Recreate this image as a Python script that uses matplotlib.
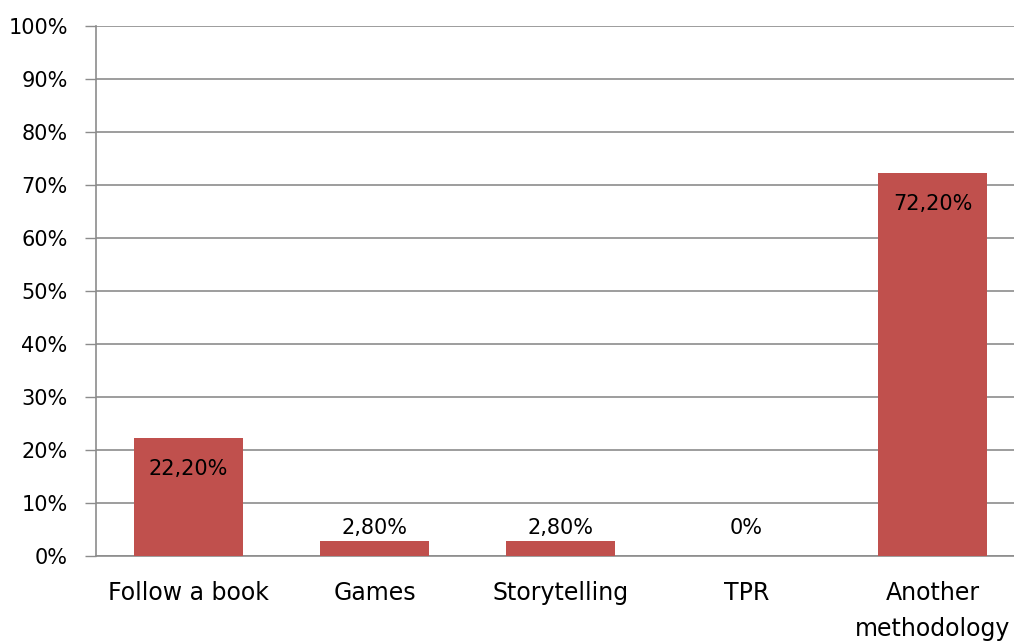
import numpy as np
import matplotlib.pyplot as plt
import matplotlib.ticker as tck

plt.rcParams['font.family'] = ['DejaVu Sans']

# Data
categories = ["Follow a book", "Games", "Storytelling", "TPR", "Another\nmethodology"]
values = [22.2, 2.8, 2.8, 0.0, 72.2]
labels = ["22,20%", "2,80%", "2,80%", "0%", "72,20%"]

bar_color = "#C0504D"
grid_color = "#8C8C8C"

fig = plt.figure(figsize=(10.14, 6.42), dpi=100)
ax = fig.add_axes([95.5 / 1014, 86 / 642, 930 / 1014, 530 / 642])

x = np.arange(len(categories))
ax.bar(x, values, width=0.585, color=bar_color, zorder=3)

for xi, v, lab in zip(x, values, labels):
    if v > 10:
        ax.annotate(lab, (xi, v), xytext=(0, -22), textcoords="offset points",
                    ha="center", va="center", fontsize=15, color="black", zorder=4)
    else:
        ax.annotate(lab, (xi, 2.8), xytext=(0, 9.5), textcoords="offset points",
                    ha="center", va="center", fontsize=15, color="black", zorder=4)

ax.set_xlim(-0.5, len(categories) - 0.5)
ax.set_ylim(0, 100)
ax.yaxis.set_major_locator(tck.MultipleLocator(10))
ax.yaxis.set_major_formatter(tck.FuncFormatter(lambda v, p: f"{v:.0f}%"))
ax.set_xticks(x)
ax.set_xticklabels(categories, fontsize=17, linespacing=1.65, va="top")
ax.tick_params(axis="x", length=0, pad=18)
ax.tick_params(axis="y", length=8, width=1, color=grid_color, labelsize=15, pad=12)

ax.grid(axis="y", color=grid_color, linewidth=1.2, zorder=0)
for side in ["top", "right"]:
    ax.spines[side].set_visible(False)
ax.spines["left"].set_color(grid_color)
ax.spines["left"].set_linewidth(1.2)
ax.spines["bottom"].set_color(grid_color)
ax.spines["bottom"].set_linewidth(1.2)

fig.savefig("out.png", dpi=100)
